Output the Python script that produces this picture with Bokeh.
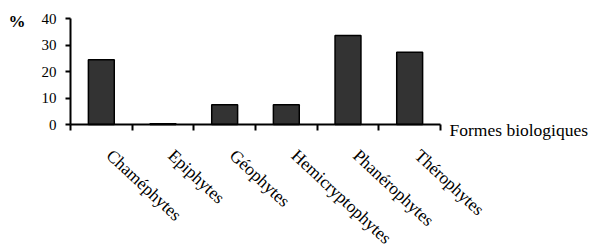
import math
from bokeh.plotting import figure
from bokeh.models import Range1d, LinearAxis, FixedTicker
from bokeh.core.properties import value
from bokeh.embed import file_html
from bokeh.resources import INLINE

categories = ["Chaméphytes", "Epiphytes", "Géophytes", "Hemicryptophytes", "Phanérophytes", "Thérophytes"]
values = [24.4, 0.3, 7.5, 7.5, 33.6, 27.3]
y_ticks = [0, 10, 20, 30, 40]
y_label = "%"
x_title = "Formes biologiques"

FONT = "'Liberation Serif', 'Times New Roman', serif"
n = len(categories)
centers = [i + 0.5 for i in range(n)]
bounds = list(range(n + 1))

W, H = 592, 248
# frame covers the whole canvas; axes are drawn at fixed data locations
left_px, right_px, top_px, bottom_px = 70, 440, 18, 124
xs = (right_px - left_px) / n
ys = (bottom_px - top_px) / 40
x_range = Range1d(-left_px / xs, n + (W - right_px) / xs)
y_range = Range1d(-(H - bottom_px) / ys, 40 + top_px / ys)

p = figure(width=W, height=H, output_backend="svg", toolbar_location=None,
           x_range=x_range, y_range=y_range,
           x_axis_location=None, y_axis_location=None, min_border=0)
p.min_border_left = 0
p.min_border_right = 0
p.min_border_top = 0
p.min_border_bottom = 0
p.outline_line_color = None
p.xgrid.visible = False
p.ygrid.visible = False
p.background_fill_color = "white"
p.border_fill_color = "white"

p.vbar(x=centers, top=values, width=0.42, bottom=0,
       fill_color="#333333", line_color="black", line_width=1.5)

xaxis = LinearAxis(ticker=FixedTicker(ticks=[], minor_ticks=bounds),
                   fixed_location=0, bounds=(0, n))
xaxis.axis_line_width = 2
xaxis.major_tick_line_color = None
xaxis.minor_tick_line_width = 2
xaxis.minor_tick_out = 6
xaxis.minor_tick_in = 0
p.add_layout(xaxis, "below")

yaxis = LinearAxis(ticker=FixedTicker(ticks=y_ticks, minor_ticks=[]),
                   fixed_location=0, bounds=(0, 40))
yaxis.axis_line_width = 2
yaxis.major_tick_line_width = 2
yaxis.major_tick_out = 5
yaxis.major_tick_in = 0
yaxis.minor_tick_line_color = None
yaxis.major_label_text_font = FONT
yaxis.major_label_text_font_size = "15px"
yaxis.major_label_text_color = "black"
yaxis.major_label_standoff = 9
p.add_layout(yaxis, "left")

# category names, rotated under the x axis
p.text(x=centers, y=[0] * n, text=categories, angle=-math.radians(43),
       x_offset=8, y_offset=28, text_align="left", text_baseline="middle",
       text_font=value(FONT), text_font_size="17.5px", text_color="black")

p.text(x=[n], y=[0], text=[x_title], x_offset=9, y_offset=-5,
       text_align="left", text_baseline="top",
       text_font=value(FONT), text_font_size="17.5px", text_color="black")

p.text(x=[0], y=[40], text=[y_label], x_offset=-62, y_offset=3,
       text_align="left", text_baseline="middle",
       text_font=value(FONT), text_font_size="17px", text_font_style="bold",
       text_color="black")

open("out.html", "w").write(file_html(p, INLINE))
